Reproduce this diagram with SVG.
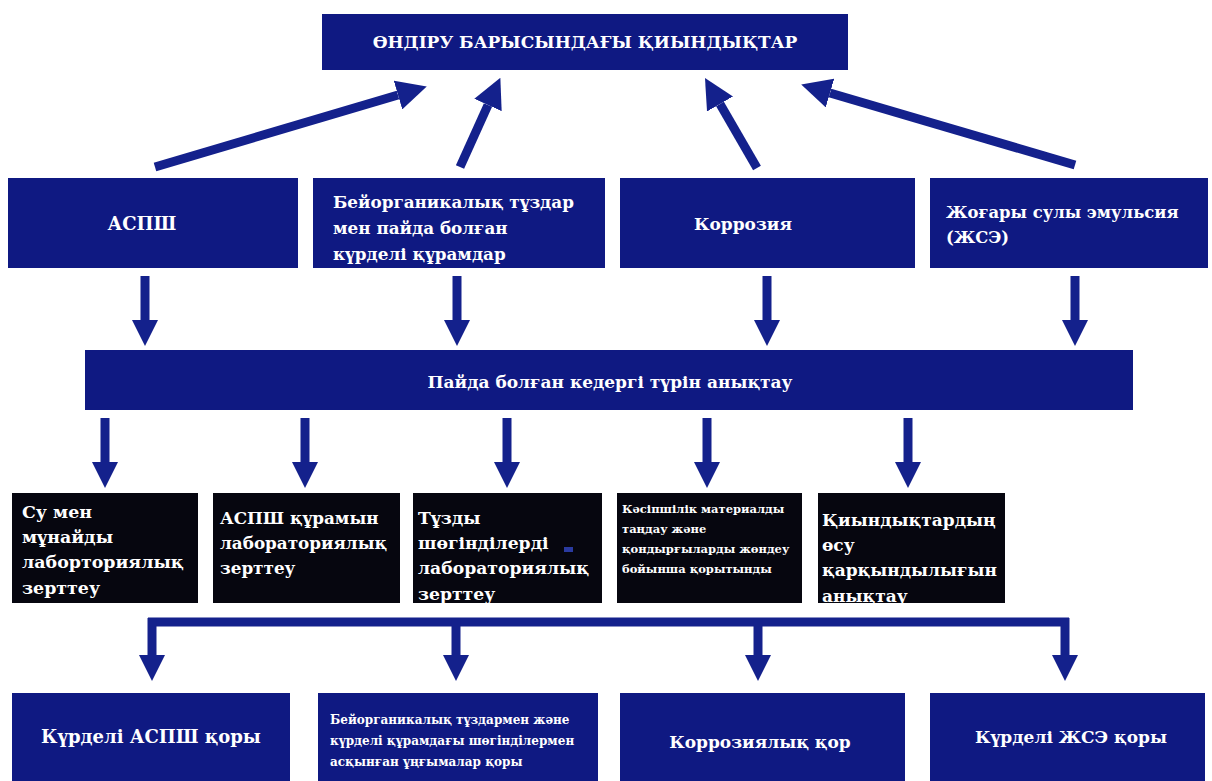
<svg xmlns="http://www.w3.org/2000/svg" width="1212" height="781" viewBox="0 0 1212 781" font-family="DejaVu Serif, serif">
<defs>
<style>
.blue{fill:#0f1982;}
.black{fill:#06060f;}
.t{font-weight:bold;fill:#ffffff;}
.c{text-anchor:middle;}
.ln{stroke:#14218c;stroke-width:9;fill:none;}
</style>
<marker id="ah" markerUnits="userSpaceOnUse" markerWidth="30" markerHeight="30" viewBox="0 0 28 28" refX="0" refY="14" orient="auto">
<path d="M0,0 L28,14 L0,28 z" fill="#14218c"/>
</marker>
<marker id="ahs" markerUnits="userSpaceOnUse" markerWidth="26" markerHeight="26" viewBox="0 0 26 26" refX="0" refY="13" orient="auto">
<path d="M0,0 L26,13 L0,26 z" fill="#14218c"/>
</marker>
</defs>
<rect width="1212" height="781" fill="#ffffff"/>

<g id="connectors">
<line class="ln" x1="155" y1="167" x2="398" y2="95" marker-end="url(#ah)"/>
<line class="ln" x1="460" y1="167" x2="488" y2="105" marker-end="url(#ah)"/>
<line class="ln" x1="757" y1="168" x2="720" y2="104" marker-end="url(#ah)"/>
<line class="ln" x1="1075" y1="165" x2="830" y2="93" marker-end="url(#ah)"/>

<line class="ln" x1="145" y1="276" x2="145" y2="320" marker-end="url(#ahs)"/>
<line class="ln" x1="457" y1="276" x2="457" y2="320" marker-end="url(#ahs)"/>
<line class="ln" x1="767" y1="276" x2="767" y2="320" marker-end="url(#ahs)"/>
<line class="ln" x1="1075" y1="276" x2="1075" y2="320" marker-end="url(#ahs)"/>

<line class="ln" x1="105" y1="418" x2="105" y2="462" marker-end="url(#ahs)"/>
<line class="ln" x1="305" y1="418" x2="305" y2="462" marker-end="url(#ahs)"/>
<line class="ln" x1="507" y1="418" x2="507" y2="462" marker-end="url(#ahs)"/>
<line class="ln" x1="707" y1="418" x2="707" y2="462" marker-end="url(#ahs)"/>
<line class="ln" x1="908" y1="418" x2="908" y2="462" marker-end="url(#ahs)"/>

<line class="ln" x1="148" y1="622" x2="1069" y2="622"/>
<line class="ln" x1="152" y1="618" x2="152" y2="655" marker-end="url(#ahs)"/>
<line class="ln" x1="456" y1="618" x2="456" y2="655" marker-end="url(#ahs)"/>
<line class="ln" x1="758" y1="618" x2="758" y2="655" marker-end="url(#ahs)"/>
<line class="ln" x1="1065" y1="618" x2="1065" y2="655" marker-end="url(#ahs)"/>
</g>

<g id="top">
<rect class="blue" x="322" y="14" width="526" height="56"/>
<text class="t c" x="585" y="48" font-size="17">ӨНДІРУ БАРЫСЫНДАҒЫ ҚИЫНДЫҚТАР</text>
</g>

<g id="n-asph">
<rect class="blue" x="8" y="178" width="290" height="90"/>
<text class="t c" x="142" y="230" font-size="18">АСПШ</text>
</g>
<g id="n-salts">
<rect class="blue" x="313" y="178" width="292" height="90"/>
<text class="t" x="333" y="208" font-size="16.8">Бейорганикалық тұздар</text>
<text class="t" x="333" y="234" font-size="16.8">мен пайда болған</text>
<text class="t" x="333" y="260" font-size="16.8">күрделі құрамдар</text>
</g>
<g id="n-corr">
<rect class="blue" x="620" y="178" width="295" height="90"/>
<text class="t c" x="743" y="230" font-size="17">Коррозия</text>
</g>
<g id="n-emul">
<rect class="blue" x="930" y="178" width="278" height="90"/>
<text class="t" x="946" y="218" font-size="16.4">Жоғары сулы эмульсия</text>
<text class="t" x="946" y="243" font-size="16.4">(ЖСЭ)</text>
</g>

<g id="n-type">
<rect class="blue" x="85" y="350" width="1048" height="60"/>
<text class="t c" x="610" y="388" font-size="17">Пайда болған кедергі түрін анықтау</text>
</g>

<g id="n-lab1">
<rect class="black" x="12" y="493" width="186" height="110"/>
<text class="t" x="22" y="518" font-size="17.4">Су мен</text>
<text class="t" x="22" y="543" font-size="17.4">мұнайды</text>
<text class="t" x="22" y="568" font-size="17.4">лаборториялық</text>
<text class="t" x="22" y="594" font-size="17.4">зерттеу</text>
</g>
<g id="n-lab2">
<rect class="black" x="213" y="493" width="187" height="110"/>
<text class="t" x="220" y="524" font-size="16.8">АСПШ құрамын</text>
<text class="t" x="220" y="549" font-size="16.8">лабораториялық</text>
<text class="t" x="220" y="574" font-size="16.8">зерттеу</text>
</g>
<g id="n-lab3">
<rect class="black" x="413" y="493" width="189" height="110"/>
<rect x="564" y="547" width="9" height="5" fill="#2a3aa0"/>
<text class="t" x="418" y="524" font-size="17.2">Тұзды</text>
<text class="t" x="418" y="549" font-size="17.2">шөгінділерді</text>
<text class="t" x="418" y="574" font-size="17.2">лабораториялық</text>
<text class="t" x="418" y="600" font-size="17.2">зерттеу</text>
</g>
<g id="n-concl">
<rect class="black" x="617" y="493" width="185" height="110"/>
<text class="t" x="622" y="513" font-size="11.5">Кәсіпшілік материалды</text>
<text class="t" x="622" y="533" font-size="11.5">таңдау және</text>
<text class="t" x="622" y="553" font-size="11.5">қондырғыларды жөндеу</text>
<text class="t" x="622" y="573" font-size="11.5">бойынша қорытынды</text>
</g>
<g id="n-rate">
<rect class="black" x="818" y="493" width="187" height="110"/>
<text class="t" x="822" y="526" font-size="17">Қиындықтардың</text>
<text class="t" x="822" y="551" font-size="17">өсу</text>
<text class="t" x="822" y="576" font-size="17">қарқындылығын</text>
<text class="t" x="822" y="602" font-size="17">анықтау</text>
</g>

<g id="n-f1">
<rect class="blue" x="12" y="693" width="278" height="88"/>
<text class="t c" x="151" y="743" font-size="18">Күрделі АСПШ қоры</text>
</g>
<g id="n-f2">
<rect class="blue" x="318" y="693" width="280" height="88"/>
<text class="t" x="330" y="724" font-size="12">Бейорганикалық тұздармен және</text>
<text class="t" x="330" y="745" font-size="12">күрделі құрамдағы шөгінділермен</text>
<text class="t" x="330" y="766" font-size="12">асқынған ұңғымалар қоры</text>
</g>
<g id="n-f3">
<rect class="blue" x="620" y="693" width="285" height="88"/>
<text class="t c" x="760" y="748" font-size="17">Коррозиялық қор</text>
</g>
<g id="n-f4">
<rect class="blue" x="930" y="693" width="275" height="88"/>
<text class="t c" x="1071" y="743" font-size="17">Күрделі ЖСЭ қоры</text>
</g>
</svg>
